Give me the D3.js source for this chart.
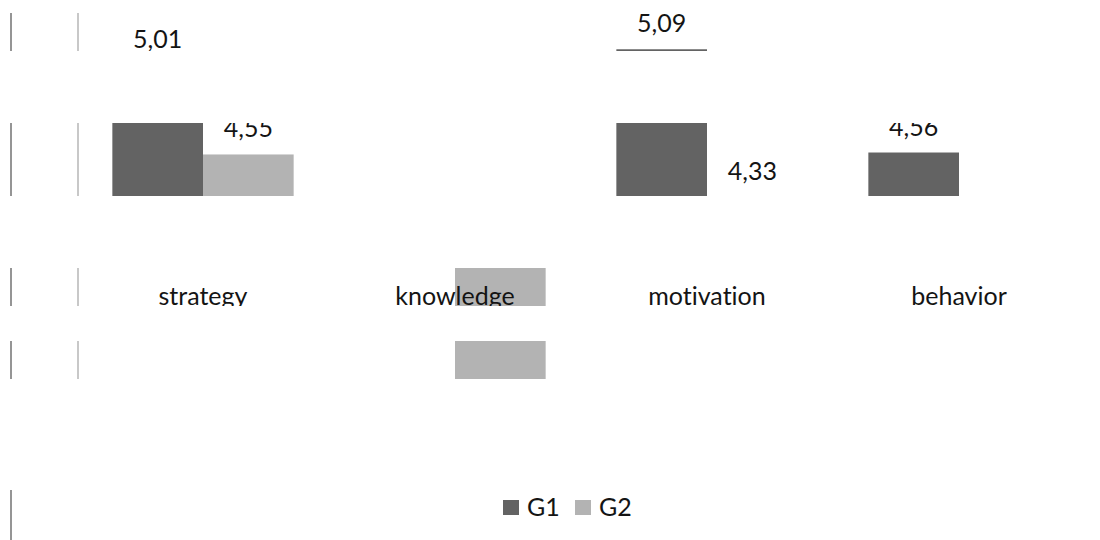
<!DOCTYPE html>
<html>
<head>
<meta charset="utf-8">
<script src="https://cdn.jsdelivr.net/npm/d3@7/dist/d3.min.js"></script>
<style>
  html, body { margin: 0; padding: 0; background: #ffffff; }
  svg { display: block; }
  text { font-family: Lato, "Open Sans", sans-serif; fill: #141414; font-variant-ligatures: none; }
</style>
</head>
<body>
<svg id="chart" width="1100" height="540"></svg>
<script>
// Group means per dimension
const categories = ["strategy", "knowledge", "motivation", "behavior"];
const seriesNames = ["G1", "G2"];
const g1Values = [5.01, 4.12, 5.09, 4.56];
const g2Values = [4.55, 3.20, 4.33, 4.10];

const seriesColors = { G1: "#636363", G2: "#b3b3b3" };

// Horizontal strips of the figure that are printed; the rest is left blank
const visibleBands = [[13, 51], [123, 196], [268, 306], [341, 379], [490, 540]];

const W = 1100, H = 540;
const plot = { left: 77, right: 1085, bottom: 480 };

const svg = d3.select("#chart");

const fmt = d3.formatLocale({ decimal: ",", thousands: ".", grouping: [3], currency: ["", ""] }).format(".2f");

const x0 = d3.scaleBand().domain(categories).range([plot.left, plot.right]).paddingInner(0).paddingOuter(0);
const x1 = d3.scaleBand().domain(seriesNames).range([0, x0.bandwidth()]).paddingInner(0).paddingOuter(0.39);
const y = d3.scaleLinear().domain([4, 5]).range([261.6, 66.8]);
const crossing = 4;

const rows = categories.map((c, i) => ({ category: c, G1: g1Values[i], G2: g2Values[i] }));

// Clip path made of the printed strips
const defs = svg.append("defs");
const clip = defs.append("clipPath").attr("id", "strips");
clip.selectAll("rect").data(visibleBands).join("rect")
  .attr("x", 0).attr("width", W)
  .attr("y", d => d[0]).attr("height", d => d[1] - d[0]);

const g = svg.append("g").attr("clip-path", "url(#strips)");

// Chart border (left edge) and value axis line
g.append("line")
  .attr("x1", 11).attr("x2", 11).attr("y1", 0).attr("y2", H)
  .attr("stroke", "#959595").attr("stroke-width", 2);
g.append("line")
  .attr("x1", plot.left + 1).attr("x2", plot.left + 1).attr("y1", 0).attr("y2", plot.bottom)
  .attr("stroke", "#c8c8c8").attr("stroke-width", 2);

// Bars
const groups = g.selectAll("g.cat").data(rows).join("g")
  .attr("class", "cat")
  .attr("transform", d => `translate(${x0(d.category)},0)`);

const cells = groups.selectAll("g.cell")
  .data(d => seriesNames.map(s => ({ series: s, value: d[s] })))
  .join("g").attr("class", "cell");

cells.append("rect")
  .attr("x", d => x1(d.series))
  .attr("width", x1.bandwidth())
  .attr("y", d => Math.min(y(d.value), y(crossing)))
  .attr("height", d => Math.abs(y(d.value) - y(crossing)))
  .attr("fill", d => seriesColors[d.series]);

// Category axis labels
g.selectAll("text.cat-label").data(categories).join("text")
  .attr("class", "cat-label")
  .attr("x", d => x0(d) + x0.bandwidth() / 2)
  .attr("y", 305)
  .attr("text-anchor", "middle")
  .style("font-size", "25px")
  .text(d => d);

// Value labels
cells.append("text")
  .attr("x", d => x1(d.series) + x1.bandwidth() / 2)
  .attr("y", d => d.value >= crossing ? y(d.value) - 17 : y(d.value) + 35)
  .attr("text-anchor", "middle")
  .style("font-size", "25px")
  .text(d => fmt(d.value));

// Legend
const legend = g.append("g").attr("transform", "translate(503,500)");
const items = legend.selectAll("g").data(seriesNames).join("g")
  .attr("transform", (d, i) => `translate(${i * 72},0)`);
items.append("rect").attr("width", 16).attr("height", 15).attr("fill", d => seriesColors[d]);
items.append("text").attr("x", 24).attr("y", 16).style("font-size", "25px").text(d => d);
</script>
</body>
</html>
